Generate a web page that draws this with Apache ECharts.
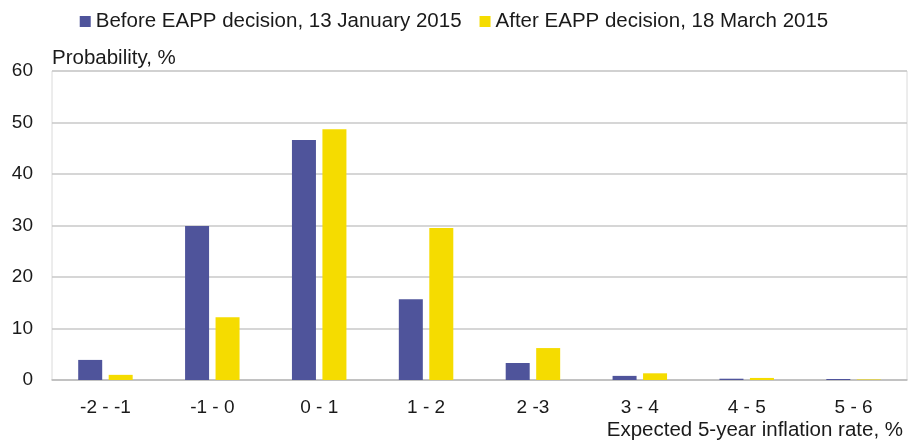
<!DOCTYPE html>
<html>
<head>
<meta charset="utf-8">
<script src="https://cdn.jsdelivr.net/npm/echarts@6/dist/echarts.min.js"></script>
<style>
	html, body { margin: 0; padding: 0; background: #fff; }
	#chart { width: 908px; height: 441px; }
</style>
</head>
<body>
<div id="chart"></div>
<script>
var categories = ['-2 - -1', '-1 - 0', '0 - 1', '1 - 2', '2 -3', '3 - 4', '4 - 5', '5 - 6'];
var beforeName = 'Before EAPP decision, 13 January 2015';
var afterName = 'After EAPP decision, 18 March 2015';
var beforeValues = [3.9, 29.9, 46.6, 15.7, 3.3, 0.8, 0.25, 0.2];
var afterValues = [1.0, 12.2, 48.7, 29.5, 6.2, 1.3, 0.4, 0.1];
var yTicks = { min: 0, max: 60, interval: 10 };

var font = 'Liberation Sans, Arial, sans-serif';
var textColor = '#1a1a1a';

var myChart = echarts.init(document.getElementById('chart'));
myChart.setOption({
	animation : false,
	textStyle : { fontFamily : font, color : textColor },
	legend : {
		top : 6,
		left : 'center',
		icon : 'rect',
		itemWidth : 11,
		itemHeight : 11,
		itemGap : 18,
		textStyle : { fontSize : 20.5, color : textColor, fontFamily : font },
		data : [beforeName, afterName]
	},
	grid : {
		left : 52,
		right : 1,
		top : 71,
		bottom : 61,
		show : true,
		borderColor : '#dadada',
		borderWidth : 1
	},
	xAxis : {
		type : 'category',
		data : categories,
		axisLine : { lineStyle : { color : '#bdbdbd', width : 1.5 } },
		axisTick : { show : false },
		axisLabel : { fontSize : 19, color : textColor, margin : 18, fontFamily : font }
	},
	yAxis : {
		type : 'value',
		min : yTicks.min,
		max : yTicks.max,
		interval : yTicks.interval,
		name : 'Probability, %',
		nameLocation : 'end',
		nameGap : 2,
		nameTextStyle : { fontSize : 20.5, color : textColor, align : 'left', fontFamily : font },
		axisLine : { show : false },
		axisTick : { show : false },
		axisLabel : { fontSize : 19, color : textColor, margin : 19, fontFamily : font },
		splitLine : { lineStyle : { color : '#c8c8c8', width : 1.5 } }
	},
	graphic : [{
		type : 'text',
		right : 5,
		top : 420,
		style : {
			text : 'Expected 5-year inflation rate, %',
			fontSize : 20.5,
			fontFamily : font,
			fill : textColor
		}
	}],
	series : [{
		name : beforeName,
		type : 'bar',
		data : beforeValues,
		barWidth : 24,
		barGap : '27%',
		itemStyle : { color : '#4f549b' }
	}, {
		name : afterName,
		type : 'bar',
		data : afterValues,
		barWidth : 24,
		itemStyle : { color : '#f5dc00' }
	}]
});
</script>
</body>
</html>
